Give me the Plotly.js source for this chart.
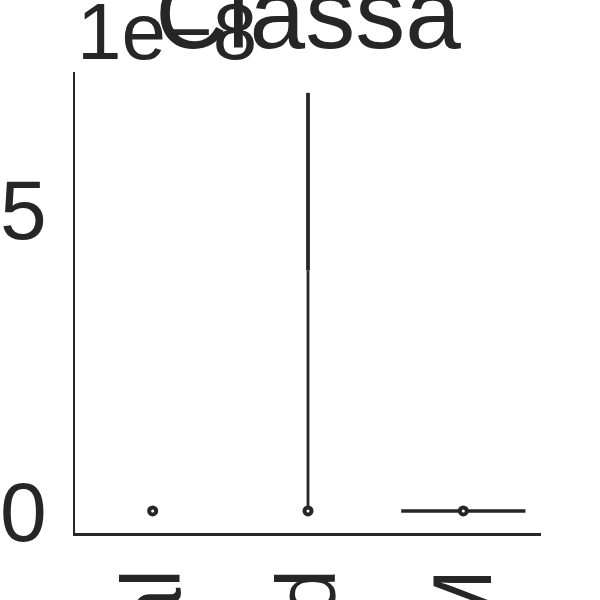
<!DOCTYPE html>
<html>
<head>
<meta charset="utf-8">
<script src="https://cdn.plot.ly/plotly-3.0.1.min.js"></script>
<style>html,body{margin:0;padding:0;background:#fff;}#chart{width:600px;height:600px;}</style>
</head>
<body>
<div id="chart"></div>
<script>
// ---- data (values in raw units; axis shows them in units of 1e-8) ----
const categories = ['Normal', 'Weighted', 'CAPM'];
const medianVals = [0.017e-8, 0.017e-8, 0.017e-8];
const lowerVals = [0.017e-8, 0.017e-8, 0.017e-8];
const whiskerHigh = [0.017e-8, 4.0e-8, 0.017e-8];
const maxVals = [0.017e-8, 6.94e-8, 0.017e-8];
const densityHalfWidth = [0.0, 0.0, 0.4]; // violin half-width in category units
const yTickVals = [0, 5e-8];
const yTickText = ['0', '5'];
const titleText = 'Classa';
const offsetText = '1e\u22128';

const ink = '#262626';
const font = 'Liberation Sans, Arial, sans-serif';
const traces = [];

categories.forEach((c, i) => {
  traces.push({x: [i, i], y: [lowerVals[i], whiskerHigh[i]], mode: 'lines',
    line: {color: ink, width: 2.8}, hoverinfo: 'skip', showlegend: false});
  traces.push({x: [i, i], y: [whiskerHigh[i], maxVals[i]], mode: 'lines',
    line: {color: ink, width: 3.8}, hoverinfo: 'skip', showlegend: false});
  if (densityHalfWidth[i] > 0) {
    traces.push({x: [i - densityHalfWidth[i], i + densityHalfWidth[i]], y: [medianVals[i], medianVals[i]],
      mode: 'lines', line: {color: ink, width: 3.6}, hoverinfo: 'skip', showlegend: false});
  }
});
traces.push({x: categories.map((c, i) => i), y: medianVals, mode: 'markers',
  marker: {color: ink, size: 11, line: {width: 0}}, hoverinfo: 'skip', showlegend: false});
traces.push({x: categories.map((c, i) => i), y: medianVals, mode: 'markers',
  marker: {color: '#ffffff', size: 3, line: {width: 0}}, hoverinfo: 'skip', showlegend: false});

const layout = {
  width: 600, height: 600,
  paper_bgcolor: '#ffffff', plot_bgcolor: '#ffffff',
  margin: {l: 75, r: 59, t: 72, b: 67, pad: 0},
  font: {family: font, color: ink},
  title: {text: titleText, font: {size: 100, color: ink, family: font},
    x: 0.5, xref: 'paper', xanchor: 'center', y: 0.92, yref: 'container', yanchor: 'bottom'},
  xaxis: {range: [-0.5, 2.5], tickvals: [0, 1, 2], ticktext: categories, tickangle: -90,
    showgrid: false, zeroline: false, showline: true, linecolor: ink, linewidth: 2.5,
    ticks: '', tickfont: {size: 84, color: ink, family: font}, automargin: false},
  yaxis: {range: [-0.348e-8, 7.285e-8], tickvals: yTickVals, ticktext: yTickText,
    showgrid: false, zeroline: false, showline: true, linecolor: ink, linewidth: 2.5,
    ticks: '', tickfont: {size: 84, color: ink, family: font}, automargin: false, ticklabelstandoff: 9},
  annotations: [{text: offsetText, xref: 'paper', yref: 'paper', x: 0, y: 1, xanchor: 'left', yanchor: 'bottom',
    showarrow: false, font: {size: 80, color: ink, family: font}, xshift: 0, yshift: -6}],
  showlegend: false
};
Plotly.newPlot('chart', traces, layout, {staticPlot: true, displayModeBar: false});
</script>
</body>
</html>
